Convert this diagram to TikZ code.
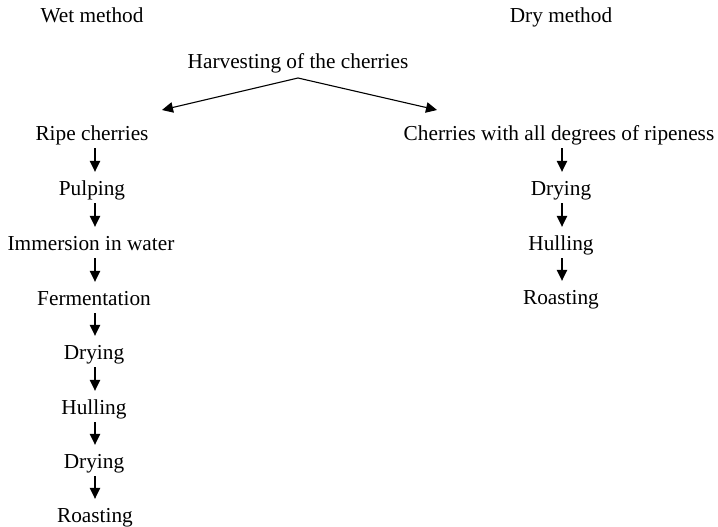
\documentclass[tikz,border=0pt]{standalone}
\usepackage{fontspec}
\setmainfont{Liberation Serif}
\usetikzlibrary{arrows.meta}
\begin{document}
\begin{tikzpicture}[x=1pt,y=-1pt,
  lbl/.style={anchor=base,inner sep=0pt,text height=15pt,text depth=5.3pt,font=\fontsize{21.3}{25}\selectfont},
  arr/.style={-{Triangle[length=11pt,width=10.5pt]},line width=1.1pt},
  varr/.style={arr,shorten <=2.7pt,shorten >=8pt}]
\useasboundingbox (0,0) rectangle (718,527);
\node[lbl] (wet) at (92,23) {Wet method};
\node[lbl] (dry) at (561,23) {Dry method};
\node[lbl] (harv) at (298,69) {Harvesting of the cherries};
\coordinate (apex) at (298,78);
\coordinate (tipL) at (162,110);
\coordinate (tipR) at (437,110);
\coordinate (colL) at (95,0);
\coordinate (colR) at (562,0);
% wet column
\node[lbl] (w1) at (92,140) {Ripe cherries};
\node[lbl] (w2) at (92,195) {Pulping};
\node[lbl] (w3) at (91,250) {Immersion in water};
\node[lbl] (w4) at (94,305) {Fermentation};
\node[lbl] (w5) at (94,359) {Drying};
\node[lbl] (w6) at (94,414) {Hulling};
\node[lbl] (w7) at (94,468) {Drying};
\node[lbl] (w8) at (95,522) {Roasting};
% dry column
\node[lbl] (d1) at (559,140) {Cherries with all degrees of ripeness};
\node[lbl] (d2) at (561,195) {Drying};
\node[lbl] (d3) at (561,250) {Hulling};
\node[lbl] (d4) at (561,304) {Roasting};
% connectors
\draw[arr] (apex) -- (tipL);
\draw[arr] (apex) -- (tipR);
\foreach \a/\b in {w1/w2,w2/w3,w3/w4,w4/w5,w5/w6,w6/w7,w7/w8}
  \draw[varr] (\a.south -| colL) -- (\b.north -| colL);
\foreach \a/\b in {d1/d2,d2/d3,d3/d4}
  \draw[varr] (\a.south -| colR) -- (\b.north -| colR);
\end{tikzpicture}
\end{document}
